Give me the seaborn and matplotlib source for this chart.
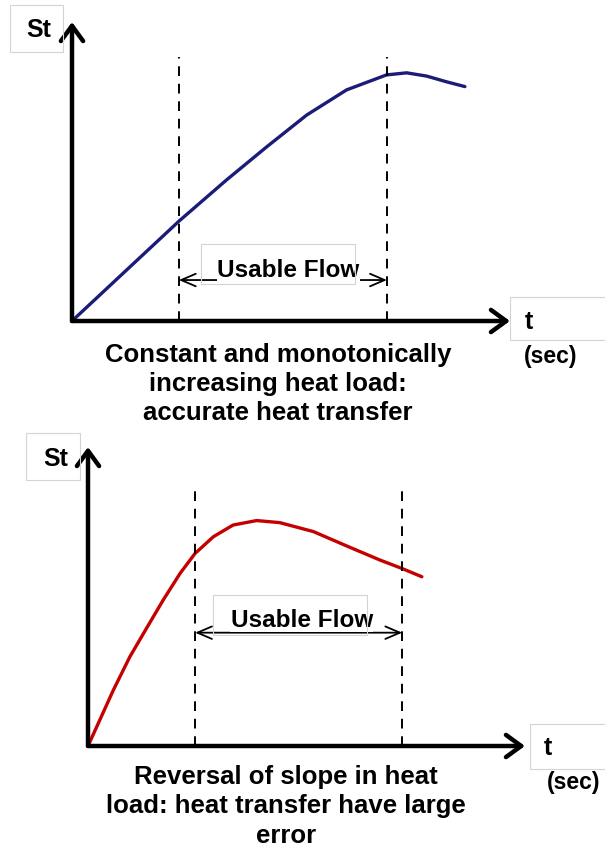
import matplotlib
matplotlib.use('Agg')
import matplotlib.pyplot as plt
import matplotlib.patches as patches
import seaborn as sns
import pandas as pd

# top panel: constant / monotonic heat load (t, St in arbitrary units)
t_top = [0, 1.25, 2.45, 3.53, 4.45, 5.36, 6.27, 7.18, 7.64, 8.10, 8.55, 8.97]
st_top = [0, 1.71, 3.35, 4.72, 5.83, 6.89, 7.73, 8.23, 8.30, 8.19, 8.00, 7.84]
usable_top = [2.44, 7.19]

# bottom panel: reversal of slope
t_bot = [0, 0.27, 0.58, 0.96, 1.34, 1.72, 2.11, 2.45, 2.87, 3.32, 3.86, 4.39, 5.16, 5.92,
         6.68, 7.18, 7.64]
st_bot = [0, 0.87, 1.87, 2.99, 3.94, 4.88, 5.78, 6.44, 7.00, 7.39, 7.54, 7.47, 7.17, 6.69,
          6.22, 5.94, 5.66]
usable_bot = [2.45, 7.19]

caption_top = ['Constant and monotonically', 'increasing heat load:', 'accurate heat transfer']
caption_bot = ['Reversal of slope in heat', 'load: heat transfer have large', 'error']

sns.set_style('white')
plt.rcParams['font.family'] = ['Liberation Sans', 'DejaVu Sans']
plt.rcParams['font.weight'] = 'bold'
plt.rcParams['text.color'] = 'black'

W, H = 605, 856
fig = plt.figure(figsize=(W / 100, H / 100), dpi=100)


def fx(px):
    return px / W


def fy(py):
    return 1 - py / H


def box(x0, y0, x1, y1):
    fig.patches.append(patches.Rectangle((fx(x0), fy(y1)), fx(x1) - fx(x0), fy(y0) - fy(y1),
                                         transform=fig.transFigure, fill=False,
                                         edgecolor='#d4d4d4', lw=0.8))


def panel(rect, t, st, usable, color, top_dash, arrow_y, label_x, label_y):
    ax = fig.add_axes(rect)
    df = pd.DataFrame({'t': t, 'St': st})
    sns.lineplot(data=df, x='t', y='St', ax=ax, color=color, lw=2.4, sort=False)
    ax.set_xlim(0, 10)
    ax.set_ylim(0, 10)
    ax.axis('off')
    ax.vlines(usable, 0, top_dash, colors='black', linestyles=(0, (5, 4)), lw=1.4)
    # axes arrows
    ap = dict(arrowstyle='->, head_length=0.55, head_width=0.4', lw=3.2, color='black',
              shrinkA=0, shrinkB=0, mutation_scale=20)
    ax.annotate('', xy=(1, 0), xytext=(0, 0), xycoords='axes fraction', arrowprops=ap,
                annotation_clip=False)
    ax.annotate('', xy=(0, 1), xytext=(0, 0), xycoords='axes fraction', arrowprops=ap,
                annotation_clip=False)
    # usable flow arrow
    ax.annotate('', xy=(usable[1], arrow_y), xytext=(usable[0], arrow_y),
                arrowprops=dict(arrowstyle='<->, head_length=0.7, head_width=0.3', lw=1.3,
                                color='black', shrinkA=0, shrinkB=0, mutation_scale=15))
    ax.text(label_x, label_y, 'Usable Flow', ha='center', va='baseline',
            fontsize=17.5, fontweight='bold',
            bbox=dict(facecolor='white', edgecolor='none', pad=0.3))
    return ax


panel([fx(72), fy(321), fx(510) - fx(72), fy(22) - fy(321)], t_top, st_top, usable_top,
      '#1c1c78', 8.83, 1.37, 4.94, 1.47)
panel([fx(88), fy(746), fx(525) - fx(88), fy(447) - fy(746)], t_bot, st_bot, usable_bot,
      '#c40000', 8.66, 3.79, 4.89, 3.99)

# label boxes
box(10, 5, 63, 52)
box(26, 433, 80, 480)
box(510, 297, 606, 340)
box(530, 724, 606, 769)
box(201, 244, 355, 284)
box(213, 595, 367, 635)

fs = 18
fig.text(fx(39), fy(30), 'St', ha='center', va='center', fontsize=fs, fontweight='bold')
fig.text(fx(56), fy(459), 'St', ha='center', va='center', fontsize=fs, fontweight='bold')
fig.text(fx(529), fy(322), 't', ha='center', va='center', fontsize=fs, fontweight='bold')
fig.text(fx(551), fy(356), '(sec)', ha='center', va='center', fontsize=16.5, fontweight='bold')
fig.text(fx(548), fy(748), 't', ha='center', va='center', fontsize=fs, fontweight='bold')
fig.text(fx(574), fy(782), '(sec)', ha='center', va='center', fontsize=16.5, fontweight='bold')

for i, line in enumerate(caption_top):
    fig.text(fx(278), fy(355 + 29 * i), line, ha='center', va='center', fontsize=18.5,
             fontweight='bold')
for i, line in enumerate(caption_bot):
    fig.text(fx(286), fy(777 + 29.5 * i), line, ha='center', va='center', fontsize=18.5,
             fontweight='bold')

fig.savefig('out.png', dpi=100)
